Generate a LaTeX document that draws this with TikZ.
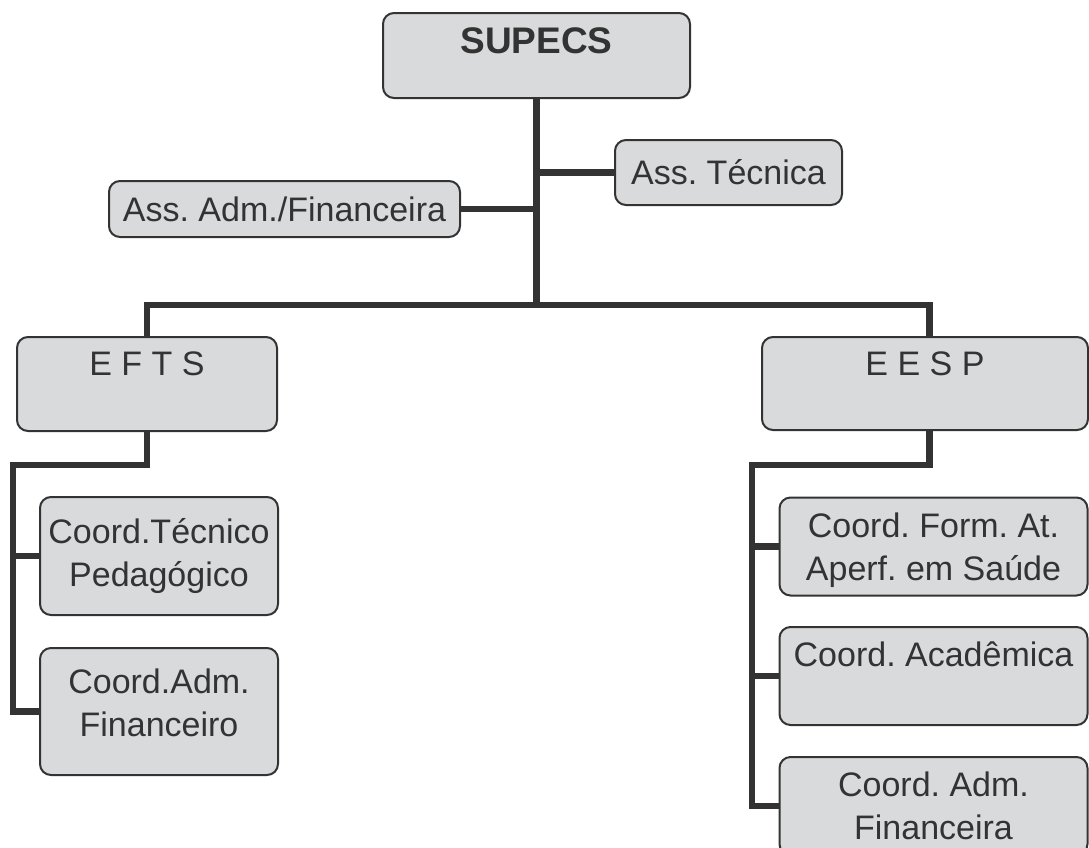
\documentclass[tikz,border=0pt]{standalone}
\usepackage{fontspec}
\setmainfont{Liberation Sans}
\frenchspacing
\definecolor{boxfill}{HTML}{D9DADC}
\definecolor{ink}{HTML}{333333}

\begin{document}
\begin{tikzpicture}[x=1pt,y=-1pt]
\tikzstyle{every node}+=[inner sep=0pt]
\tikzstyle{unit}=[draw=ink, line width=2pt, fill=boxfill, rounded corners=11pt, align=center, text=ink, font=\fontsize{34}{43}\selectfont]
\tikzstyle{link}=[draw=ink, line width=6.5pt]
\clip (0,0) rectangle (1089,847);
% top level
\node [unit, minimum width=307pt, minimum height=85pt, font=\fontsize{37}{43}\selectfont\bfseries] (supecs) at (536.5,55.5) {SUPECS\\[-12.5pt]\mbox{}};
\node [unit, minimum width=227pt, minimum height=65pt] (tec) at (728.5,172.5) {Ass. T\'ecnica};
\node [unit, minimum width=351pt, minimum height=56pt] (adm) at (284.5,209) {Ass. Adm./Financeira};
% schools
\node [unit, minimum width=260pt, minimum height=94pt] (efts) at (147,384) {E F T S\\[-3pt]\mbox{}};
\node [unit, minimum width=326pt, minimum height=93pt] (eesp) at (925,383.5) {E E S P\\[-3pt]\mbox{}};
% EFTS units
\node [unit, minimum width=238pt, minimum height=118pt] (ctp) at (159,556) {Coord.T\'ecnico\\Pedag\'ogico};
\node [unit, minimum width=238pt, minimum height=127pt] (caf) at (159,711.5) {Coord.Adm.\\Financeiro\\[-25pt]\mbox{}};
% EESP units
\node [unit, minimum width=308pt, minimum height=98pt, text depth=0pt] (cfa) at (933.5,546.5) {Coord. Form. At.\\Aperf. em Sa\'ude};
\node [unit, minimum width=308pt, minimum height=98pt] (cac) at (933.5,676) {Coord. Acad\^emica\\ \mbox{}};
\node [unit, minimum width=308pt, minimum height=98pt] (cadm) at (933.5,806) {Coord. Adm.\\Financeira};
% connectors
\coordinate (bus) at (536.5,305);
\coordinate (ltop) at (13,465);
\coordinate (rtop) at (752,465);
\draw [link] (supecs) -- (bus);
\draw [link] (supecs.south |- tec.west) -- (tec.west);
\draw [link] (supecs.south |- adm.east) -- (adm.east);
\draw [link] (efts.north) |- (bus) -| ([xshift=4.5pt]eesp.north);
\draw [link] (efts.south) |- (ltop) |- (caf.west);
\draw [link] (ltop |- ctp.west) -- (ctp.west);
\draw [link] ([xshift=4.5pt]eesp.south) |- (rtop) |- (cadm.west);
\draw [link] (rtop |- cfa.west) -- (cfa.west);
\draw [link] (rtop |- cac.west) -- (cac.west);
\end{tikzpicture}
\end{document}
